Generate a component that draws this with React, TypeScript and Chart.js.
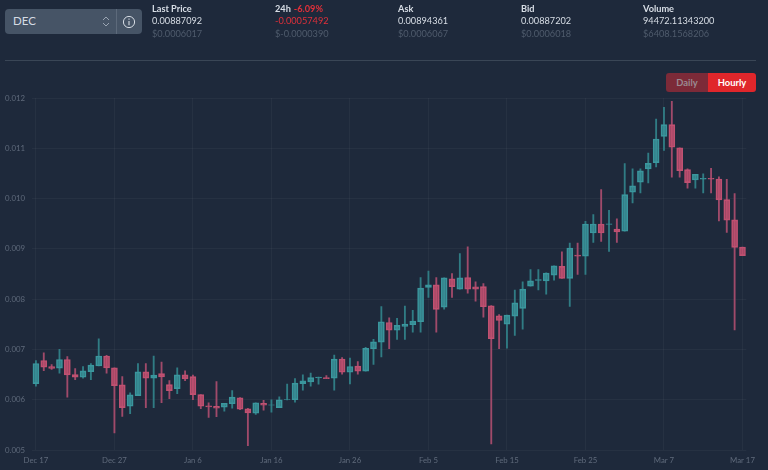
import React, { useEffect, useRef } from "react";
import { Chart, registerables } from "chart.js";

Chart.register(...registerables);

const categories = [
  "Dec 17","Dec 18","Dec 19","Dec 20","Dec 21","Dec 22","Dec 23","Dec 24","Dec 25","Dec 26",
  "Dec 27","Dec 28","Dec 29","Dec 30","Dec 31","Jan 1","Jan 2","Jan 3","Jan 4","Jan 5",
  "Jan 6","Jan 7","Jan 8","Jan 9","Jan 10","Jan 11","Jan 12","Jan 13","Jan 14","Jan 15",
  "Jan 16","Jan 17","Jan 18","Jan 19","Jan 20","Jan 21","Jan 22","Jan 23","Jan 24","Jan 25",
  "Jan 26","Jan 27","Jan 28","Jan 29","Jan 30","Jan 31","Feb 1","Feb 2","Feb 3","Feb 4",
  "Feb 5","Feb 6","Feb 7","Feb 8","Feb 9","Feb 10","Feb 11","Feb 12","Feb 13","Feb 14",
  "Feb 15","Feb 16","Feb 17","Feb 18","Feb 19","Feb 20","Feb 21","Feb 22","Feb 23","Feb 24",
  "Feb 25","Feb 26","Feb 27","Feb 28","Mar 1","Mar 2","Mar 3","Mar 4","Mar 5","Mar 6",
  "Mar 7","Mar 8","Mar 9","Mar 10","Mar 11","Mar 12","Mar 13","Mar 14","Mar 15","Mar 16",
  "Mar 17",
];

const opens = [
  0.006321,0.00678,0.00666,0.006627,0.0068,0.0065,0.006447,0.00656,0.00667,0.00687,
  0.006634,0.006295,0.00587,0.00608,0.006554,0.00643,0.00652,0.0063,0.00622,0.006494,
  0.00646,0.0061,0.005877,0.00587,0.00585,0.00592,0.006036,0.005817,0.00573,0.00593,
  0.00589,0.005843,0.006,0.006,0.00632,0.006355,0.006435,0.00644,0.00643,0.00681,
  0.006547,0.006667,0.006567,0.007013,0.007146,0.007536,0.007384,0.007457,0.00749,0.00755,
  0.008232,0.008285,0.00784,0.008404,0.0082,0.00843,0.008245,0.00825,0.007868,0.00767,
  0.007503,0.007662,0.007815,0.008258,0.00837,0.008364,0.008477,0.008651,0.008412,0.008877,
  0.008857,0.009316,0.009495,0.009488,0.009395,0.00935,0.010126,0.010325,0.01059,0.010715,
  0.011238,0.01147,0.011007,0.010576,0.01037,0.010384,0.010404,0.01039,0.00998,0.009575,
  0.009037,
];

const closes = [
  0.00672,0.006647,0.00662,0.0068,0.006494,0.006447,0.006574,0.006687,0.00687,0.006634,
  0.00628,0.005843,0.006096,0.006554,0.00643,0.00649,0.006454,0.00618,0.006494,0.006414,
  0.0061,0.00587,0.005857,0.00583,0.00593,0.00605,0.00581,0.005737,0.00594,0.00589,
  0.0059,0.006,0.006005,0.00633,0.006375,0.00644,0.00645,0.00642,0.006806,0.006547,
  0.00666,0.006567,0.00702,0.00715,0.00755,0.007384,0.007477,0.007503,0.007563,0.008218,
  0.008285,0.007795,0.008424,0.00825,0.008424,0.0082,0.0082,0.007848,0.007212,0.007576,
  0.007682,0.007927,0.0082,0.008364,0.00839,0.008517,0.00866,0.008412,0.009017,0.008857,
  0.009495,0.009495,0.009316,0.0095,0.009336,0.01008,0.010252,0.01055,0.0107,0.011185,
  0.01147,0.01102,0.010556,0.010318,0.010483,0.010404,0.010384,0.009974,0.00957,0.00903,
  0.008864,
];

const highs = [
  0.00678,0.00693,0.0067,0.007,0.00686,0.00662,0.00666,0.00672,0.00721,0.006885,
  0.006634,0.00646,0.006135,0.00672,0.00672,0.00687,0.006746,0.00638,0.006634,0.006574,
  0.00649,0.0061,0.005936,0.00636,0.00593,0.00618,0.00604,0.00583,0.00594,0.00599,
  0.006,0.006055,0.00631,0.00642,0.006494,0.00653,0.00645,0.00648,0.00689,0.00684,
  0.00683,0.00676,0.00704,0.0072,0.007854,0.00763,0.00762,0.00786,0.00778,0.00843,
  0.008556,0.00843,0.008424,0.00851,0.008907,0.00904,0.008344,0.00831,0.00787,0.007695,
  0.007682,0.00818,0.008344,0.00859,0.00859,0.008523,0.00866,0.008943,0.009116,0.009116,
  0.009548,0.009681,0.010179,0.009767,0.009595,0.010695,0.01059,0.01059,0.010907,0.011583,
  0.011815,0.011934,0.011007,0.01059,0.010483,0.01049,0.0106,0.01043,0.010384,0.0101,
  0.009037,
];

const lows = [
  0.006268,0.00658,0.0066,0.006527,0.00605,0.0064,0.00643,0.0064,0.00667,0.006527,
  0.00534,0.00567,0.00572,0.00608,0.005843,0.005843,0.00594,0.00602,0.00612,0.00638,
  0.006,0.00582,0.00565,0.005664,0.00577,0.00583,0.0058,0.005086,0.00571,0.00579,
  0.00575,0.005843,0.005996,0.00595,0.00619,0.00627,0.00631,0.00642,0.00619,0.00651,
  0.006315,0.006507,0.006567,0.0067,0.00685,0.007013,0.0072,0.0072,0.007344,0.007344,
  0.008033,0.007344,0.0078,0.008033,0.0082,0.00812,0.00796,0.007642,0.00512,0.007013,
  0.007026,0.007278,0.007404,0.008258,0.008185,0.0081,0.008378,0.008412,0.007854,0.00849,
  0.00849,0.00913,0.00915,0.00895,0.00913,0.00935,0.009914,0.01011,0.01031,0.01063,
  0.01096,0.010424,0.010424,0.010205,0.010205,0.01011,0.01011,0.009556,0.009325,0.00739,
  0.008864,
];

const yTicks = [0.005, 0.006, 0.007, 0.008, 0.009, 0.01, 0.011, 0.012];

const stats = [
  { title: "Last Price", value: "0.00887092", usd: "$0.0006017", x: 152 },
  { title: "24h", change: "-6.09%", value: "-0.00057492", usd: "$-0.0000390", x: 275, red: true },
  { title: "Ask", value: "0.00894361", usd: "$0.0006067", x: 398 },
  { title: "Bid", value: "0.00887202", usd: "$0.0006018", x: 521 },
  { title: "Volume", value: "94472.11343200", usd: "$6408.1568206", x: 643 },
];

const FONT = "Lato, 'Noto Sans', sans-serif";
const BG = "#1e293b";
const upFill = "rgba(58,150,156,0.72)";
const upLine = "#3b979e";
const downFill = "rgba(196,80,112,0.74)";
const downLine = "#bf5272";
const GRID = "rgba(255,255,255,0.04)";

export default function App() {
  const ref = useRef<HTMLCanvasElement>(null);

  useEffect(() => {
    if (!ref.current) return;
    const isUp = (i: number) => closes[i] >= opens[i];
    const chart = new Chart(ref.current, {
      type: "bar",
      data: {
        labels: categories,
        datasets: [
          {
            label: "Body",
            data: categories.map((_, i) => [opens[i], closes[i]]),
            backgroundColor: categories.map((_, i) => (isUp(i) ? upFill : downFill)),
            borderColor: categories.map((_, i) => (isUp(i) ? upLine : downLine)),
            borderWidth: 1,
            borderSkipped: false,
            barThickness: 6,
            grouped: false,
            order: 1,
          } as any,
          {
            label: "Wick",
            data: categories.map((_, i) => [lows[i], highs[i]]),
            backgroundColor: categories.map((_, i) => (isUp(i) ? "#307c84" : "#a04a6a")),
            borderWidth: 0,
            barThickness: 1.2,
            grouped: false,
            order: 2,
          } as any,
        ],
      },
      options: {
        animation: false,
        responsive: false,
        maintainAspectRatio: false,
        layout: { padding: { top: 98, right: 21.6, left: 0, bottom: 0 } },
        plugins: { legend: { display: false }, tooltip: { enabled: false } },
        scales: {
          x: {
            type: "category",
            offset: true,
            afterFit: (s: any) => { s.height = 20; },
            border: { display: false },
            grid: {
              color: (c: any) => (c.index % 10 === 0 ? GRID : "transparent"),
              drawTicks: false,
              offset: false,
            },
            ticks: {
              autoSkip: false,
              maxRotation: 0,
              padding: 6,
              color: "#5f6a7b",
              font: { family: FONT, size: 7.8 },
              callback: (_: any, i: number) => (i % 10 === 0 ? categories[i] : ""),
            },
          },
          y: {
            min: 0.005,
            max: 0.012,
            afterFit: (s: any) => { s.width = 32; },
            afterBuildTicks: (s: any) => { s.ticks = yTicks.map((value) => ({ value })); },
            border: { display: false },
            grid: { color: GRID, drawTicks: false },
            ticks: {
              padding: 7,
              color: "#5f6a7b",
              font: { family: FONT, size: 7.8 },
              callback: (v: any) => Number(v).toFixed(3),
            },
          },
        },
      },
    });
    return () => chart.destroy();
  }, []);

  return (
    <div style={{ position: "fixed", left: 0, top: 0, width: 768, height: 470, background: BG, overflow: "hidden", fontFamily: FONT }}>
      <canvas ref={ref} width={768} height={470} style={{ position: "absolute", left: 0, top: 0, width: 768, height: 470 }} />

      <div style={{ position: "absolute", left: 5, top: 9, width: 137, height: 25, background: "#465466", borderRadius: 4, boxSizing: "border-box" }}>
        <span style={{ position: "absolute", left: 8, top: 5, fontSize: 11.5, color: "#d5dbe3" }}>DEC</span>
        <svg style={{ position: "absolute", left: 96, top: 6 }} width="10" height="13" viewBox="0 0 10 13">
          <path d="M2 5 L5 2 L8 5 M2 8 L5 11 L8 8" fill="none" stroke="#9aa5b3" strokeWidth="1" />
        </svg>
        <div style={{ position: "absolute", left: 111, top: 0, width: 1, height: 25, background: "#5d6a7b" }} />
        <svg style={{ position: "absolute", left: 117, top: 6 }} width="14" height="14" viewBox="0 0 14 14">
          <circle cx="7" cy="7" r="5.6" fill="none" stroke="#d5dbe3" strokeWidth="1" />
          <path d="M7 6 V10.2 M7 3.6 V4.8" stroke="#d5dbe3" strokeWidth="1.1" />
        </svg>
      </div>

      {stats.map((s) => (
        <div key={s.title} style={{ position: "absolute", left: s.x, top: 3, fontSize: 9.2, lineHeight: "12.4px", whiteSpace: "nowrap" }}>
          <div style={{ fontWeight: 700, color: "#d8dee6" }}>
            {s.title}
            {s.change ? <span style={{ color: "#e0303a", marginLeft: 3 }}>{s.change}</span> : null}
          </div>
          <div style={{ color: s.red ? "#e0303a" : "#d8dee6" }}>{s.value}</div>
          <div style={{ color: "#4f5b6c" }}>{s.usd}</div>
        </div>
      ))}

      <div style={{ position: "absolute", left: 5, top: 60, width: 751, height: 1, background: "#3a4656" }} />

      <div style={{ position: "absolute", left: 666, top: 73, width: 90, height: 19, borderRadius: 3, overflow: "hidden", display: "flex", fontSize: 9.4, fontWeight: 700, lineHeight: "19px", textAlign: "center" }}>
        <div style={{ width: 42, background: "#7c2a38", color: "#9a8a92" }}>Daily</div>
        <div style={{ width: 48, background: "#e0262b", color: "#ffffff" }}>Hourly</div>
      </div>
    </div>
  );
}
